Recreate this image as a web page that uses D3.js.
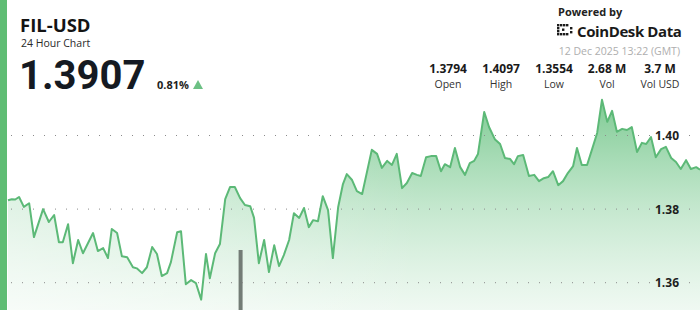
<!DOCTYPE html>
<html>
<head>
<meta charset="utf-8">
<script src="https://cdn.jsdelivr.net/npm/d3@7"></script>
<style>
  html, body { margin: 0; padding: 0; background: #fff; }
  svg { display: block; font-family: "Open Sans", "Noto Sans", sans-serif; }
</style>
</head>
<body>
<svg id="chart" width="700" height="310"></svg>
<script>
// ---- data ----
const symbol = "FIL-USD";
const subtitle = "24 Hour Chart";
const lastPrice = "1.3907";
const changePct = "0.81%";
const statValues = ["1.3794", "1.4097", "1.3554", "2.68 M", "3.7 M"];
const statLabels = ["Open", "High", "Low", "Vol", "Vol USD"];
const timestamp = "12 Dec 2025 13:22 (GMT)";
const yTicks = [1.36, 1.38, 1.40];

// minutes since 11 Dec 2025 13:22 GMT
const minutes = [
  0, 8, 15, 23, 33, 44, 54, 73, 85, 96,
  106, 114, 125, 135, 146, 156, 177, 187, 198, 208,
  216, 227, 237, 248, 260, 268, 279, 289, 300, 310,
  320, 331, 339, 352, 360, 370, 381, 391, 402, 412,
  420, 431, 441, 452, 462, 472, 483, 493, 504, 512,
  522, 533, 543, 554, 564, 574, 585, 595, 606, 616,
  626, 635, 645, 655, 666, 676, 687, 697, 705, 716,
  726, 737, 757, 768, 778, 789, 799, 809, 820, 830,
  841, 851, 859, 870, 880, 891, 901, 909, 920, 930,
  941, 951, 961, 970, 978, 991, 1001, 1013, 1024, 1034,
  1045, 1053, 1061, 1072, 1084, 1095, 1105, 1115, 1124, 1134,
  1145, 1155, 1165, 1176, 1184, 1194, 1205, 1215, 1226, 1236,
  1247, 1257, 1267, 1278, 1288, 1298, 1309, 1319, 1328, 1338,
  1348, 1359, 1369, 1380, 1390, 1400, 1411, 1421, 1432, 1440
];
const prices = [
  1.3824, 1.3827, 1.3826, 1.3833, 1.3806, 1.3816, 1.3724, 1.3800, 1.3765, 1.3784,
  1.3710, 1.3710, 1.3759, 1.3653, 1.3716, 1.3680, 1.3735, 1.3686, 1.3694, 1.3667,
  1.3746, 1.3735, 1.3672, 1.3669, 1.3642, 1.3639, 1.3626, 1.3642, 1.3697, 1.3678,
  1.3618, 1.3626, 1.3656, 1.3737, 1.3740, 1.3596, 1.3607, 1.3599, 1.3554, 1.3678,
  1.3612, 1.3680, 1.3705, 1.3827, 1.3860, 1.3860, 1.3830, 1.3811, 1.3808, 1.3776,
  1.3653, 1.3716, 1.3629, 1.3702, 1.3645, 1.3675, 1.3716, 1.3789, 1.3776, 1.3803,
  1.3751, 1.3770, 1.3767, 1.3835, 1.3797, 1.3667, 1.3805, 1.3868, 1.3895, 1.3879,
  1.3849, 1.3841, 1.3961, 1.3950, 1.3912, 1.3931, 1.3920, 1.3950, 1.3857, 1.3871,
  1.3898, 1.3893, 1.3890, 1.3941, 1.3944, 1.3944, 1.3903, 1.3922, 1.3914, 1.3966,
  1.3914, 1.3893, 1.3925, 1.3931, 1.3950, 1.4064, 1.4023, 1.3990, 1.3977, 1.3939,
  1.3936, 1.3922, 1.3944, 1.3947, 1.3890, 1.3893, 1.3876, 1.3884, 1.3887, 1.3903,
  1.3865, 1.3876, 1.3898, 1.3917, 1.3966, 1.3920, 1.3920, 1.3961, 1.4007, 1.4097,
  1.4037, 1.4067, 1.4010, 1.4018, 1.4015, 1.4023, 1.3955, 1.3980, 1.3977, 1.3996,
  1.3941, 1.3963, 1.3969, 1.3939, 1.3928, 1.3909, 1.3933, 1.3909, 1.3914, 1.3907
];
// visible volume bar (others fall below the frame)
const volMinutes = [484];
const volValues = [0.42];

// ---- drawing ----
const W = 700, H = 310;
const svg = d3.select("#chart");
const green = "#5cb977";

const x = d3.scaleLinear().domain([0, 1440]).range([8, 700]);
const y = d3.scaleLinear().domain([1.36, 1.40]).range([282.7, 135.5]);
const yVol = d3.scaleLinear().domain([0, 0.42]).range([H, 250]);

const data = minutes.map((m, i) => ({ m, p: prices[i] }));

const defs = svg.append("defs");
const grad = defs.append("linearGradient")
  .attr("id", "areaGrad").attr("gradientUnits", "userSpaceOnUse")
  .attr("x1", 0).attr("y1", 95).attr("x2", 0).attr("y2", H);
grad.append("stop").attr("offset", 0).attr("stop-color", "#5cbc76").attr("stop-opacity", 0.8);
grad.append("stop").attr("offset", 0.5).attr("stop-color", "#6cc485").attr("stop-opacity", 0.42);
grad.append("stop").attr("offset", 1).attr("stop-color", "#8fd3a1").attr("stop-opacity", 0.14);

const fade = defs.append("linearGradient")
  .attr("id", "fadeGrad").attr("gradientUnits", "userSpaceOnUse")
  .attr("x1", 8).attr("y1", 0).attr("x2", 420).attr("y2", 0);
fade.append("stop").attr("offset", 0).attr("stop-color", "#fff").attr("stop-opacity", 0.5);
fade.append("stop").attr("offset", 1).attr("stop-color", "#fff").attr("stop-opacity", 0);

const area = d3.area().x(d => x(d.m)).y0(H).y1(d => y(d.p));
svg.append("path").datum(data).attr("fill", "url(#areaGrad)").attr("d", area);
svg.append("path").datum(data).attr("fill", "url(#fadeGrad)").attr("d", area);

// volume bar
svg.selectAll("rect.vol").data(volMinutes).join("rect")
  .attr("class", "vol")
  .attr("x", d => x(d) - 2)
  .attr("width", 4)
  .attr("y", (d, i) => yVol(volValues[i]))
  .attr("height", (d, i) => H - yVol(volValues[i]))
  .attr("fill", "#737c76");

// grid lines
const grid = svg.append("g");
yTicks.forEach(t => {
  grid.append("line")
    .attr("x1", 11).attr("x2", 650)
    .attr("y1", y(t)).attr("y2", y(t))
    .attr("stroke", "#8a8a8a").attr("stroke-width", 1)
    .attr("stroke-dasharray", "1,10");
  grid.append("line")
    .attr("x1", 689).attr("x2", 700)
    .attr("y1", y(t)).attr("y2", y(t))
    .attr("stroke", "#8a8a8a").attr("stroke-width", 1)
    .attr("stroke-dasharray", "1,10");
  grid.append("text")
    .attr("x", 679).attr("y", y(t) + 4.5)
    .attr("text-anchor", "end")
    .attr("font-size", 12).attr("font-weight", 700)
    .attr("fill", "#1e1e1e")
    .text(t.toFixed(2));
});

// line
svg.append("path").datum(data)
  .attr("fill", "none")
  .attr("stroke", green)
  .attr("stroke-width", 2)
  .attr("stroke-linejoin", "round")
  .attr("d", d3.line().x(d => x(d.m)).y(d => y(d.p)));

// left accent bar
svg.append("rect").attr("x", 0).attr("y", 0).attr("width", 7).attr("height", H).attr("fill", "#5fbd74");

// header left
svg.append("text").attr("x", 20).attr("y", 32)
  .attr("font-size", 18.5).attr("font-weight", 700).attr("fill", "#141414").text(symbol);
svg.append("text").attr("x", 21).attr("y", 47)
  .attr("font-size", 10.5).attr("fill", "#2a2a2a").text(subtitle);
svg.append("text").attr("x", 19).attr("y", 88.5)
  .attr("font-family", "Roboto, 'Open Sans', sans-serif")
  .attr("font-size", 40).attr("font-weight", 700).attr("fill", "#151a22").text(lastPrice);
svg.append("text").attr("x", 157).attr("y", 89)
  .attr("font-size", 11).attr("font-weight", 700).attr("fill", "#1e1e1e").text(changePct);
svg.append("path").attr("d", "M193,89 L198,80 L203,89 Z").attr("fill", "#6cc084");

// header right
svg.append("text").attr("x", 558).attr("y", 16)
  .attr("font-size", 11).attr("font-weight", 700).attr("fill", "#222").text("Powered by");
const logo = svg.append("g").attr("fill", "#1a1a1a");
[[557,24],[560,24],[563,24],[566,24],[557,27],[557,30],[557,33],[560,33],[563,33],[566,33],[562,28.5],[570,27],[570,31]]
  .forEach(([a, b]) => logo.append("rect").attr("x", a).attr("y", b).attr("width", 2.4).attr("height", 2.4));
svg.append("text").attr("x", 577).attr("y", 37)
  .attr("font-size", 15).attr("font-weight", 700).attr("fill", "#1a1a1a")
  .attr("letter-spacing", -0.4).text("CoinDesk Data");
svg.append("text").attr("x", 680).attr("y", 55).attr("text-anchor", "end")
  .attr("font-size", 10.5).attr("fill", "#aeaeae").text(timestamp);

const statX = d3.scalePoint().domain(statLabels).range([448, 660]);
statLabels.forEach((lab, i) => {
  svg.append("text").attr("x", statX(lab)).attr("y", 72.5).attr("text-anchor", "middle")
    .attr("font-size", 12).attr("font-weight", 700).attr("fill", "#1a1a1a").text(statValues[i]);
  svg.append("text").attr("x", statX(lab)).attr("y", 87.5).attr("text-anchor", "middle")
    .attr("font-size", 10.5).attr("fill", "#333").text(lab);
});
</script>
</body>
</html>
